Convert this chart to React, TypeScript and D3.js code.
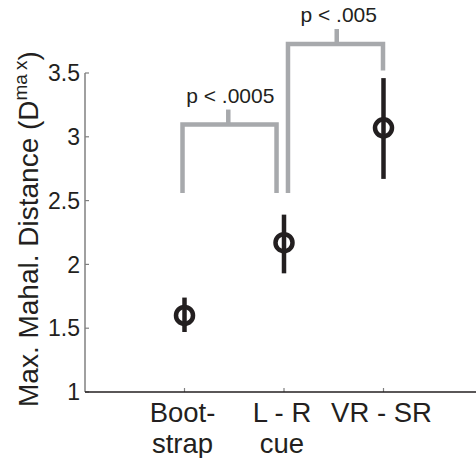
import React from "react";
import * as d3 from "d3";

// ---- data ----
const categories = ["Bootstrap", "L - R cue", "VR - SR"];
const categoryLines = [["Boot-", "strap"], ["L - R", "cue"], ["VR - SR"]];
const means = [1.6, 2.17, 3.07];
const lowerCI = [1.47, 1.93, 2.67];
const upperCI = [1.74, 2.39, 3.46];
const yTicks = [1, 1.5, 2, 2.5, 3, 3.5];
const yTickLabels = ["1", "1.5", "2", "2.5", "3", "3.5"];

// significance brackets (in data units)
const bracketLabels = ["p < .0005", "p < .005"];
const bracketFrom = [0.98, 2.04];
const bracketTo = [1.925, 2.995];
const bracketLeftEnd = [2.56, 2.56];
const bracketRightEnd = [2.56, 3.52];
const bracketTop = [3.096, 3.727];
const bracketMid = [1.44, 2.53];

const W = 476;
const H = 458;
const FONT = "'Liberation Sans', Arial, Helvetica, sans-serif";
const BLACK = "#231f20";
const GRAY = "#a7a9ac";

export default function App() {
  const x = d3.scaleLinear().domain([0, 4]).range([85, 483]);
  const y = d3.scaleLinear().domain([1, 3.5]).range([392, 73]);
  const x0 = x(0);

  return (
    <svg
      width={W}
      height={H}
      style={{ position: "absolute", left: 0, top: 0, background: "#fff" }}
      fontFamily={FONT}
    >
      <rect x={0} y={0} width={W} height={H} fill="#fff" />
      {/* y axis */}
      <line x1={x0} x2={x0} y1={y(1)} y2={y(3.5)} stroke="#808080" strokeWidth={1.5} />
      {yTicks.map((t, i) => (
        <g key={"yt" + i}>
          <line x1={x0} x2={x0 + 4} y1={y(t)} y2={y(t)} stroke="#808080" strokeWidth={1.2} />
          <text x={x0 - 5} y={y(t)} dy="0.36em" textAnchor="end" fontSize={23} fill={BLACK}>
            {yTickLabels[i]}
          </text>
        </g>
      ))}
      {/* x axis */}
      {categories.map((c, i) => (
        <line
          key={"xt" + c}
          x1={x(i + 1)}
          x2={x(i + 1)}
          y1={y(1)}
          y2={y(1) - 4}
          stroke="#808080"
          strokeWidth={1.2}
        />
      ))}
      <line x1={x0} x2={W} y1={y(1)} y2={y(1)} stroke={BLACK} strokeWidth={1.6} />
      {categoryLines.map((lines, i) => (
        <text key={"xl" + i} textAnchor="middle" fontSize={27.5} fill={BLACK}>
          {lines.map((l, j) => (
            <tspan key={j} x={x(i + 1) - 2} y={422 + j * 30.5}>
              {l}
            </tspan>
          ))}
        </text>
      ))}
      {/* y label */}
      <text transform={`translate(38, 407) rotate(-90)`} fontSize={28} fill={BLACK}>
        Max. Mahal. Distance (D
        <tspan fontSize={19} dy={-11}>ma</tspan>
        <tspan fontSize={19} dx={4}>x</tspan>
        <tspan dy={11}>)</tspan>
      </text>
      {/* brackets */}
      {bracketLabels.map((lab, i) => (
        <g key={"br" + i}>
          <path
            d={`M${x(bracketFrom[i])},${y(bracketLeftEnd[i])}V${y(bracketTop[i])}H${x(bracketTo[i])}V${y(
              bracketRightEnd[i]
            )}`}
            fill="none"
            stroke={GRAY}
            strokeWidth={4.5}
          />
          <line
            x1={x(bracketMid[i])}
            x2={x(bracketMid[i])}
            y1={y(bracketTop[i])}
            y2={y(bracketTop[i]) - 15}
            stroke={GRAY}
            strokeWidth={4.5}
          />
          <text
            x={x(bracketMid[i]) + 2}
            y={y(bracketTop[i]) - 22}
            textAnchor="middle"
            fontSize={21}
            fill={BLACK}
          >
            {lab}
          </text>
        </g>
      ))}
      {/* error bars + markers */}
      {categories.map((c, i) => (
        <g key={"pt" + c}>
          <line
            x1={x(i + 1)}
            x2={x(i + 1)}
            y1={y(lowerCI[i])}
            y2={y(upperCI[i])}
            stroke={BLACK}
            strokeWidth={4.5}
          />
          <circle cx={x(i + 1)} cy={y(means[i])} r={8.5} fill="none" stroke={BLACK} strokeWidth={4.5} />
        </g>
      ))}
    </svg>
  );
}
